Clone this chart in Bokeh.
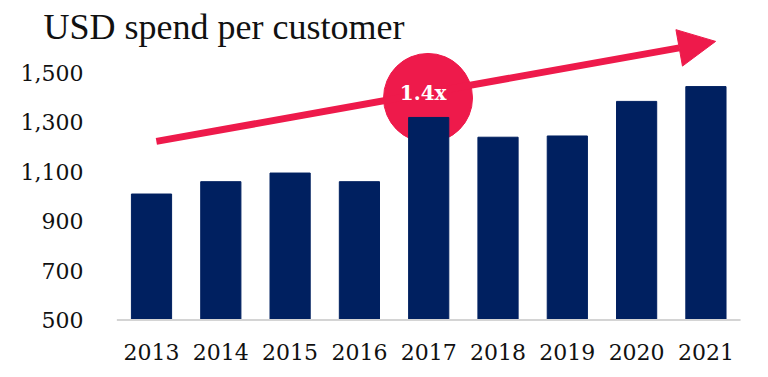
from bokeh.plotting import figure
from bokeh.models import (Range1d, FixedTicker, Arrow, NormalHead, Label, ColumnDataSource)
from bokeh.core.properties import value
from bokeh.embed import file_html
from bokeh.resources import INLINE

years = ["2013", "2014", "2015", "2016", "2017", "2018", "2019", "2020", "2021"]
spend = [1010, 1060, 1095, 1060, 1320, 1240, 1245, 1385, 1445]
y_ticks = [500, 700, 900, 1100, 1300, 1500]
y_tick_labels = ["500", "700", "900", "1,100", "1,300", "1,500"]
title_text = "USD spend per customer"
growth_label = "1.4x"

NAVY = "#002060"
RED = "#EE1A4B"
FONT = "DejaVu Serif"
TEXT = "#111111"

idx = list(range(len(years)))

# frame: x 0..768, y 0..332 ; 500 sits at y=319.5, 0.247 px per unit
p = figure(width=768, height=377, output_backend="svg", toolbar_location=None,
           x_range=Range1d(-2.179, 8.903),
           y_range=Range1d(449.4, 1793.5),
           min_border_left=0, min_border_right=0,
           min_border_top=0, min_border_bottom=45)
p.outline_line_color = None
p.background_fill_color = "white"
p.border_fill_color = "white"
p.xgrid.visible = False
p.ygrid.visible = False
p.yaxis.visible = False

# highlight circle behind the 2017 bar
p.ellipse(x=3.99, y=1399, width=89, height=89, width_units="screen",
          height_units="screen", fill_color=RED, line_color=RED)

p.vbar(x=idx, top=spend, bottom=500, width=0.58, fill_color=NAVY, line_color=NAVY)

# category baseline
p.segment(x0=[-0.5], y0=[500], x1=[len(years) - 0.5], y1=[500],
          line_color="#D4D4D4", line_width=2)

# y tick labels
ysrc = ColumnDataSource(dict(x=[-0.981] * len(y_ticks), y=y_ticks, t=y_tick_labels))
p.text(x="x", y="y", text="t", source=ysrc, text_font=value(FONT),
       text_font_size="22px", text_align="right", text_baseline="middle",
       text_color=TEXT)

arrow = Arrow(x_start=0.07, y_start=1223, x_end=8.14, y_end=1628,
              line_color=RED, line_width=7,
              end=NormalHead(size=37, fill_color=RED, line_color=RED, line_width=1))
p.add_layout(arrow)

p.add_layout(Label(x=3.92, y=1417, text=growth_label, text_color="white",
                   text_font=FONT, text_font_style="bold", text_font_size="20px",
                   text_align="center", text_baseline="middle"))

p.add_layout(Label(x=-1.558, y=1688, text=title_text, text_color=TEXT,
                   text_font="Liberation Serif", text_font_size="36px",
                   text_align="left", text_baseline="alphabetic"))

xax = p.xaxis[0]
xax.ticker = FixedTicker(ticks=idx)
xax.major_label_overrides = {i: y for i, y in zip(idx, years)}
xax.axis_line_color = None
xax.major_tick_line_color = None
xax.minor_tick_line_color = None
xax.major_label_standoff = 5
xax.major_label_text_font = FONT
xax.major_label_text_font_size = "22px"
xax.major_label_text_color = TEXT

open("out.html", "w").write(file_html(p, INLINE))
